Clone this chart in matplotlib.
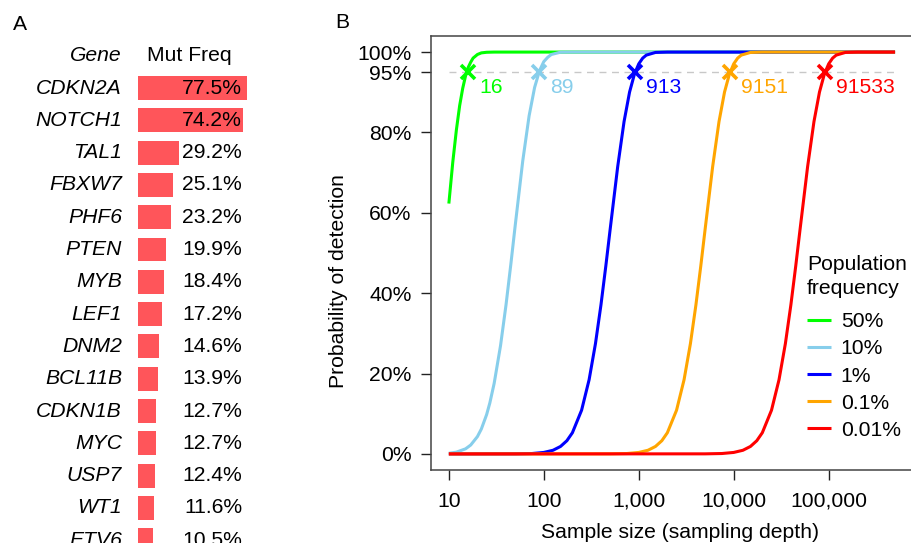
import matplotlib
matplotlib.use("Agg")
import matplotlib.pyplot as plt
from matplotlib.ticker import FixedLocator, NullLocator

plt.rcParams['font.family'] = ['Liberation Sans', 'DejaVu Sans']

# panel A data
genes = ['CDKN2A', 'NOTCH1', 'TAL1', 'FBXW7', 'PHF6', 'PTEN', 'MYB', 'LEF1',
         'DNM2', 'BCL11B', 'CDKN1B', 'MYC', 'USP7', 'WT1', 'ETV6']
mut_freq = [77.5, 74.2, 29.2, 25.1, 23.2, 19.9, 18.4, 17.2, 14.6, 13.9,
            12.7, 12.7, 12.4, 11.6, 10.5]

# panel B data
freq_labels = ['50%', '10%', '1%', '0.1%', '0.01%']
colors = ['#00FF00', '#87CEEB', '#0000FF', '#FFA500', '#FF0000']

n_50 = [10, 11, 12, 13, 14, 15, 16, 17, 18, 20, 22, 25, 30, 500000]
p_50 = [0.623, 0.726, 0.806, 0.867, 0.910, 0.941, 0.962, 0.975, 0.985,
        0.994, 0.998, 0.9995, 1.0, 1.0]

n_10 = [10, 12, 15, 17, 20, 22, 25, 27, 30, 35, 40, 45, 50, 60, 70, 80, 90,
        100, 110, 120, 150, 200, 500000]
p_10 = [0.0016, 0.0044, 0.0127, 0.0222, 0.0432, 0.0621, 0.098, 0.1266,
        0.1755, 0.2692, 0.371, 0.4728, 0.5688, 0.729, 0.8412, 0.912, 0.9534,
        0.9763, 0.987, 0.994, 0.9997, 1.0, 1.0]

n_1 = [10, 50, 75, 100, 125, 150, 175, 200, 250, 300, 350, 400, 450, 500, 600,
       700, 800, 900, 1000, 1100, 1200, 1500, 2000, 500000]
p_1 = [0.0, 0.0002, 0.001, 0.0037, 0.0091, 0.0186, 0.0329, 0.0527, 0.1088,
       0.1847, 0.2746, 0.3712, 0.4679, 0.5595, 0.7149, 0.827, 0.9004, 0.945,
       0.9707, 0.9849, 0.9924, 0.9991, 1.0, 1.0]

n_01 = [10, 500, 750, 1000, 1250, 1500, 1750, 2000, 2500, 3000, 3500, 4000,
        4500, 5000, 6000, 7000, 8000, 9000, 10000, 11000, 12000, 15000, 20000,
        500000]
p_01 = p_1

n_001 = [10, 5000, 7500, 10000, 12500, 15000, 17500, 20000, 25000, 30000,
         35000, 40000, 45000, 50000, 60000, 70000, 80000, 90000, 100000,
         110000, 120000, 150000, 200000, 500000]
p_001 = p_1

n_all = [n_50, n_10, n_1, n_01, n_001]
p_all = [p_50, p_10, p_1, p_01, p_001]

n_95 = [16, 89, 913, 9151, 91533]

W, H = 911, 543
fig = plt.figure(figsize=(W / 100, H / 100), dpi=100)
fs = 15.2

# ---- panel A: table of mutation frequencies ----
row0, pitch = 88, 32.3
top_px = row0 - 1.5 * pitch
bot_px = row0 + 15.5 * pitch
axa = fig.add_axes([138 / W, (H - bot_px) / H, 141 / W, (bot_px - top_px) / H])
axa.barh(range(len(genes)), mut_freq, height=0.74, color='#FF555A', left=0)
axa.set_xlim(0, 100)
axa.set_ylim(15.5, -1.5)
axa.axis('off')

gene_x = (122 - 138) / 1.41
pct_x = (242 - 138) / 1.41
axa.text(gene_x, -1, 'Gene', ha='right', va='center', style='italic', fontsize=fs)
axa.text(36.5, -1, 'Mut Freq', ha='center', va='center', fontsize=fs)
for i in range(len(genes)):
    axa.text(gene_x, i, genes[i], ha='right', va='center', style='italic',
             fontsize=fs, clip_on=False)
    axa.text(pct_x, i, '%.1f%%' % mut_freq[i], ha='right', va='center',
             fontsize=fs, clip_on=False)

fig.text(13 / W, 1 - 24 / H, 'A', ha='left', va='center', fontsize=fs)
fig.text(335 / W, 1 - 22 / H, 'B', ha='left', va='center', fontsize=fs)

# ---- panel B: detection probability ----
L, R, T, B = 431, 913, 36, 470
ax = fig.add_axes([L / W, (H - B) / H, (R - L) / W, (B - T) / H])

ax.plot([10, 500000], [0.95, 0.95], color='#C8C8C8', lw=1, dashes=(5, 4))
for k in range(5):
    ax.plot(n_all[k], p_all[k], color=colors[k], lw=2.2, label=freq_labels[k],
            solid_capstyle='butt')
for k in range(5):
    ax.plot(n_95[k], 0.95, marker='x', ms=9.5, mew=2.6, color=colors[k])
    ax.annotate(str(n_95[k]), (n_95[k], 0.95), xytext=(8, -11),
                textcoords='offset points', ha='left', va='center',
                color=colors[k], fontsize=fs)

ax.set_xscale('log')
ax.set_xlim(10 ** 0.812, 10 ** 5.888)
ax.set_ylim(-0.04, 1.04)
ax.xaxis.set_major_locator(FixedLocator([10, 100, 1000, 10000, 100000]))
ax.xaxis.set_minor_locator(NullLocator())
ax.set_xticklabels(['10', '100', '1,000', '10,000', '100,000'])
ax.set_yticks([0, 0.2, 0.4, 0.6, 0.8, 0.95, 1.0])
ax.set_yticklabels(['0%', '20%', '40%', '60%', '80%', '95%', '100%'])
ax.tick_params(length=7, width=1, pad=7, labelsize=fs, color='#222222')
ax.tick_params(axis='x', pad=8.5)
for s in ax.spines.values():
    s.set_color('#444444')
    s.set_linewidth(1.1)

ax.set_xlabel('Sample size (sampling depth)', fontsize=fs, va='center')
ax.xaxis.set_label_coords((680 - L) / (R - L), (B - 532) / (B - T))
ax.set_ylabel('Probability of detection', fontsize=fs, va='center', ha='center')
ax.yaxis.set_label_coords((338 - L) / (R - L), (B - 281) / (B - T))

leg = ax.legend(title='Population\nfrequency', loc='upper left',
                bbox_to_anchor=(807 / W, 1 - 255 / H),
                bbox_transform=fig.transFigure, frameon=False, fontsize=fs,
                title_fontsize=fs, handlelength=1.15, handletextpad=0.45,
                labelspacing=0.38, borderpad=0, borderaxespad=0,
                alignment='left')
leg.get_title().set_linespacing(1.3)
# a little more room between the title and the entries
leg._legend_box.sep = 0.38 * fs + 5

fig.savefig('out.png', dpi=100)
